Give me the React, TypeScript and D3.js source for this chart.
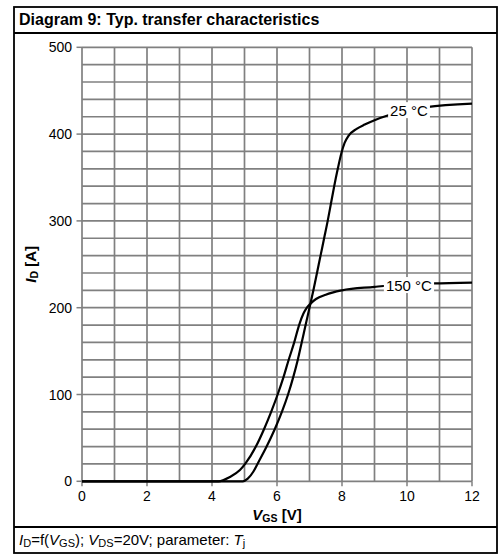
import React, { useEffect, useRef } from 'react';
import * as d3 from 'd3';

// 25 °C curve: V_GS [V] and I_D [A]
const VGS_25 = [0, 4.95, 5.1, 5.27, 5.4, 5.68, 5.93, 6.15, 6.34, 6.5, 6.64, 6.76, 6.88, 7.0, 7.12, 7.23, 7.34, 7.45, 7.56, 7.66, 7.76, 7.87, 7.98, 8.08, 8.2, 8.45, 8.7, 9.0, 9.45, 10.6, 12];
const ID_25 = [0, 0, 3, 11, 20, 40, 60, 80, 100, 120, 140, 160, 180, 200, 220, 240, 260, 280, 300, 320, 340, 360, 378, 390, 398, 406, 411, 416, 422, 431, 435];

// 150 °C curve
const VGS_150 = [0, 4.2, 4.55, 4.86, 5.02, 5.35, 5.6, 5.82, 6.02, 6.2, 6.36, 6.53, 6.68, 6.81, 6.92, 7.04, 7.2, 7.5, 8.0, 9.0, 9.4, 10.8, 12];
const ID_150 = [0, 0, 5, 13, 20, 40, 60, 80, 100, 120, 140, 160, 180, 193, 200, 205, 210, 215, 220, 224, 225.5, 228, 229];

const X_TICKS = [0, 2, 4, 6, 8, 10, 12];
const Y_TICKS = [0, 100, 200, 300, 400, 500];
const CURVE_LABELS = ['25 °C', '150 °C'];
const LABEL_VGS = [9.48, 9.35];
const LABEL_ID = [427.5, 226];

const FONT = '"Liberation Sans", Arial, Helvetica, sans-serif';

export default function App() {
  const ref = useRef<SVGSVGElement>(null);

  useEffect(() => {
    const svg = d3.select(ref.current);
    svg.selectAll('*').remove();
    svg.attr('font-family', FONT);

    const x = d3.scaleLinear().domain([0, 12]).range([82, 472]);
    const y = d3.scaleLinear().domain([0, 500]).range([481.3, 47.3]);

    // frame
    svg.append('rect').attr('x', 14).attr('y', 7).attr('width', 483).attr('height', 546)
      .attr('fill', '#fff').attr('stroke', '#000').attr('stroke-width', 1.8);
    svg.append('line').attr('x1', 14).attr('x2', 497).attr('y1', 33).attr('y2', 33)
      .attr('stroke', '#000').attr('stroke-width', 1.8);
    svg.append('line').attr('x1', 14).attr('x2', 497).attr('y1', 527).attr('y2', 527)
      .attr('stroke', '#000').attr('stroke-width', 1.8);

    // title
    svg.append('text').attr('x', 19).attr('y', 25).attr('font-size', 16).attr('font-weight', 'bold')
      .attr('fill', '#000').text('Diagram 9: Typ. transfer characteristics');

    // grid
    const grid = svg.append('g').attr('stroke', '#808080').attr('stroke-width', 1.7);
    grid.selectAll('line.v').data(d3.range(0, 13, 1)).join('line').attr('class', 'v')
      .attr('x1', (d) => x(d)).attr('x2', (d) => x(d)).attr('y1', y(0)).attr('y2', y(500));
    grid.selectAll('line.h').data(d3.range(0, 501, 20)).join('line').attr('class', 'h')
      .attr('x1', x(0)).attr('x2', x(12)).attr('y1', (d) => y(d)).attr('y2', (d) => y(d));

    // ticks
    const ticks = svg.append('g').attr('stroke', '#808080').attr('stroke-width', 1.5);
    ticks.selectAll('line.yt').data(Y_TICKS).join('line').attr('class', 'yt')
      .attr('x1', x(0) - 5.5).attr('x2', x(0)).attr('y1', (d) => y(d)).attr('y2', (d) => y(d));
    ticks.selectAll('line.xt').data(X_TICKS).join('line').attr('class', 'xt')
      .attr('x1', (d) => x(d)).attr('x2', (d) => x(d)).attr('y1', y(0)).attr('y2', y(0) + 5);

    // tick labels
    svg.append('g').selectAll('text').data(Y_TICKS).join('text')
      .attr('x', 72).attr('y', (d) => y(d)).attr('dy', '0.36em').attr('text-anchor', 'end')
      .attr('font-size', 14).attr('fill', '#000').text((d) => String(d));
    svg.append('g').selectAll('text').data(X_TICKS).join('text')
      .attr('x', (d) => x(d)).attr('y', 501).attr('text-anchor', 'middle')
      .attr('font-size', 14).attr('fill', '#000').text((d) => String(d));

    // curves
    const line = d3.line<[number, number]>().x((d) => x(d[0])).y((d) => y(d[1])).curve(d3.curveMonotoneX);
    const s25: [number, number][] = VGS_25.map((v, i) => [v, ID_25[i]]);
    const s150: [number, number][] = VGS_150.map((v, i) => [v, ID_150[i]]);
    [s25, s150].forEach((s) => {
      svg.append('path').attr('d', line(s)).attr('fill', 'none').attr('stroke', '#000')
        .attr('stroke-width', 2.2).attr('stroke-linejoin', 'round');
    });

    // curve labels with white backgrounds
    CURVE_LABELS.forEach((lbl, i) => {
      const g = svg.append('g');
      const t = g.append('text').attr('x', x(LABEL_VGS[i])).attr('y', y(LABEL_ID[i]))
        .attr('dy', '0.36em').attr('font-size', 15).attr('fill', '#000').text(lbl);
      const bb = (t.node() as SVGTextElement).getBBox();
      g.insert('rect', 'text').attr('x', bb.x - 2).attr('y', bb.y + 0.5)
        .attr('width', bb.width + 4).attr('height', bb.height - 1).attr('fill', '#fff');
    });

    // axis titles
    const xt = svg.append('text').attr('x', (x(0) + x(12)) / 2).attr('y', 520)
      .attr('text-anchor', 'middle').attr('font-size', 15).attr('font-weight', 'bold').attr('fill', '#000');
    xt.append('tspan').attr('font-style', 'italic').text('V');
    xt.append('tspan').attr('font-size', 10.5).attr('dy', 2).text('GS');
    xt.append('tspan').attr('dy', -2).text(' [V]');

    const yt = svg.append('text').attr('transform', `translate(36,${(y(0) + y(500)) / 2}) rotate(-90)`)
      .attr('text-anchor', 'middle').attr('font-size', 15).attr('font-weight', 'bold').attr('fill', '#000');
    yt.append('tspan').attr('font-style', 'italic').text('I');
    yt.append('tspan').attr('font-size', 10.5).attr('dy', 2).text('D');
    yt.append('tspan').attr('dy', -2).text(' [A]');

    // caption
    const cap = svg.append('text').attr('x', 19).attr('y', 545).attr('font-size', 15).attr('fill', '#000');
    const parts: [string, string][] = [
      ['i', 'I'], ['s', 'D'], ['n', '=f('], ['i', 'V'], ['s', 'GS'], ['n', '); '],
      ['i', 'V'], ['s', 'DS'], ['n', '=20V; parameter: '], ['i', 'T'], ['s', 'j'],
    ];
    let shifted = false;
    parts.forEach(([k, s]) => {
      const ts = cap.append('tspan').text(s);
      if (k === 'i') ts.attr('font-style', 'italic');
      if (k === 's') {
        ts.attr('font-size', 11);
        if (!shifted) { ts.attr('dy', 2); shifted = true; }
      } else if (shifted) {
        ts.attr('dy', -2); shifted = false;
      }
    });
  }, []);

  return <svg ref={ref} width={500} height={558} style={{ position: 'absolute', left: 0, top: 0 }} />;
}
